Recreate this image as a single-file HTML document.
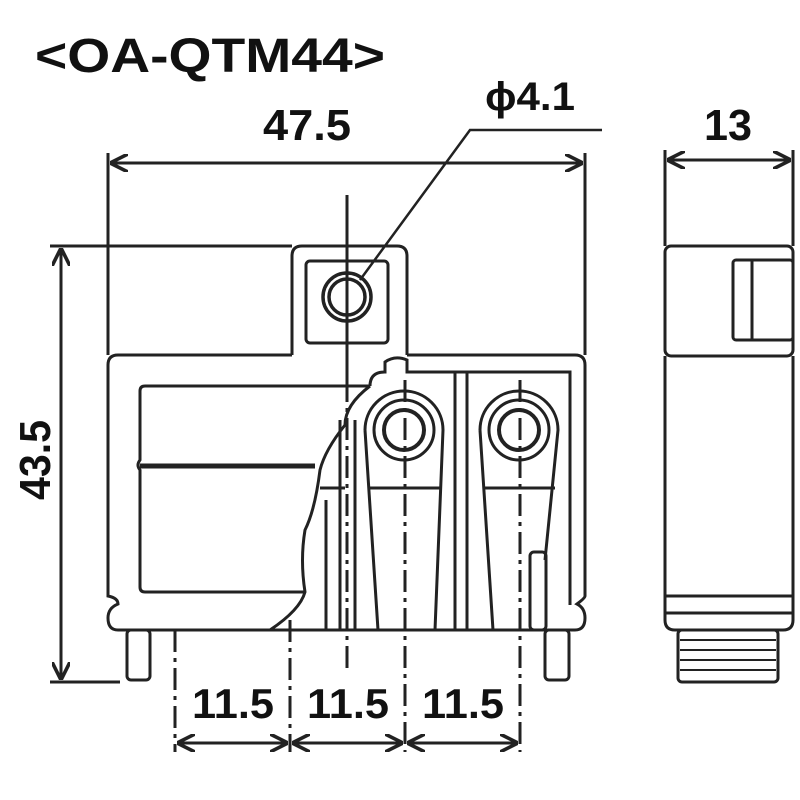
<!DOCTYPE html>
<html><head><meta charset="utf-8"><style>html,body{margin:0;padding:0;background:#fff}svg{display:block}</style></head>
<body>
<svg width="800" height="800" viewBox="0 0 800 800" xmlns="http://www.w3.org/2000/svg" font-family="Liberation Sans, sans-serif" fill="none" stroke="#222" stroke-width="3">
<defs>
<marker id="a" viewBox="0 0 10 10" refX="10" refY="5" markerWidth="6" markerHeight="6" orient="auto-start-reverse"><path d="M0,0 L10,5 L0,10" stroke="#222" stroke-width="2" fill="none"/></marker>
</defs>
<g fill="#111" stroke="none" font-weight="bold">
<text x="35" y="72" font-size="48" textLength="350" lengthAdjust="spacingAndGlyphs">&lt;OA-QTM44&gt;</text>
<text x="263" y="140" font-size="44" textLength="88" lengthAdjust="spacingAndGlyphs">47.5</text>
<text x="485" y="110" font-size="40" textLength="90" lengthAdjust="spacingAndGlyphs">ϕ4.1</text>
<text x="704" y="140" font-size="44" textLength="48" lengthAdjust="spacingAndGlyphs">13</text>
<text transform="translate(50,460) rotate(-90)" x="-40" y="0" font-size="44" textLength="80" lengthAdjust="spacingAndGlyphs">43.5</text>
<text x="192" y="718" font-size="42" textLength="82" lengthAdjust="spacingAndGlyphs">11.5</text>
<text x="307" y="718" font-size="42" textLength="82" lengthAdjust="spacingAndGlyphs">11.5</text>
<text x="422" y="718" font-size="42" textLength="82" lengthAdjust="spacingAndGlyphs">11.5</text>
</g>
<line x1="110" y1="163" x2="583" y2="163" marker-start="url(#a)" marker-end="url(#a)"/>
<line x1="108" y1="153" x2="108" y2="355"/>
<line x1="585" y1="153" x2="585" y2="355"/>
<line x1="667" y1="160" x2="791" y2="160" marker-start="url(#a)" marker-end="url(#a)"/>
<line x1="665" y1="150" x2="665" y2="246"/>
<line x1="793" y1="150" x2="793" y2="246"/>
<line x1="61" y1="248" x2="61" y2="680" marker-start="url(#a)" marker-end="url(#a)"/>
<line x1="50" y1="246" x2="292" y2="246"/>
<line x1="50" y1="682" x2="120" y2="682"/>
<line x1="177" y1="743" x2="288" y2="743" marker-start="url(#a)" marker-end="url(#a)"/>
<line x1="292" y1="743" x2="403" y2="743" marker-start="url(#a)" marker-end="url(#a)"/>
<line x1="407" y1="743" x2="518" y2="743" marker-start="url(#a)" marker-end="url(#a)"/>
<g stroke-dasharray="22,6,4,6">
<line x1="175" y1="630" x2="175" y2="752"/>
<line x1="290" y1="620" x2="290" y2="752"/>
<line x1="405" y1="380" x2="405" y2="752"/>
<line x1="520" y1="380" x2="520" y2="752"/>
<line x1="347" y1="380" x2="347" y2="670"/>
</g>
<line x1="347" y1="195" x2="347" y2="386"/>
<polyline points="602,130 470,130 360,280" stroke-width="2.5"/>
<path d="M292,355 V256 Q292,246 302,246 H397 Q407,246 407,256 V355"/>
<rect x="306" y="261" width="82" height="82" rx="4"/>
<circle cx="347" cy="297" r="24" stroke-width="3.5"/>
<circle cx="347" cy="297" r="18" stroke-width="3.5"/>
<path d="M292,355 H118 Q108,355 108,365 V596 Q118,598 118,604 Q108,608 108,618 Q108,630 118,630 H575 Q585,630 585,618 Q585,608 577,604 Q585,598 585,596 V365 Q585,355 575,355 H407"/>
<path d="M370,386 H145 Q140,386 140,391 V460 Q136,465 140,470 V587 Q140,592 145,592 H305"/>
<line x1="140" y1="466" x2="315" y2="466" stroke-width="5"/>
<path d="M370,386 Q370,372 385,372 V362 Q395,355 407,360 V372 H570 V605"/>
<path d="M370,386 Q345,405 345,425 Q325,450 320,470 Q315,510 305,530 Q300,560 305,592 Q300,610 270,630"/>
<line x1="455" y1="372" x2="455" y2="630"/>
<line x1="467" y1="372" x2="467" y2="630"/>
<g>
<path d="M365,430 A39,39 0 0 1 443,430 L435,630 M365,430 L378,630"/>
<circle cx="404" cy="430" r="30"/><circle cx="404" cy="430" r="20" stroke-width="4"/>
<line x1="370" y1="488" x2="440" y2="488"/>
<path d="M480,430 A39,39 0 0 1 558,430 L545,560 M480,430 L493,630"/>
<circle cx="519" cy="430" r="30"/><circle cx="519" cy="430" r="20" stroke-width="4"/>
<line x1="484" y1="488" x2="555" y2="488"/>
<line x1="320" y1="488" x2="345" y2="488"/>
<line x1="326" y1="500" x2="326" y2="630"/><line x1="340" y1="420" x2="340" y2="630"/><line x1="355" y1="420" x2="355" y2="630"/>
<rect x="530" y="552" width="16" height="78" rx="4"/>
</g>
<rect x="127" y="630" width="23" height="50" rx="4"/>
<rect x="545" y="630" width="24" height="50" rx="4"/>
<rect x="665" y="246" width="128" height="110" rx="6"/>
<rect x="733" y="260" width="60" height="80" rx="3"/>
<line x1="752" y1="260" x2="752" y2="340"/>
<path d="M665,356 V620 Q665,630 675,630 H783 Q793,630 793,620 V356"/>
<line x1="665" y1="596" x2="793" y2="596"/>
<line x1="665" y1="613" x2="793" y2="613"/>
<rect x="678" y="630" width="100" height="52" rx="4"/>
<g stroke-width="2"><line x1="680" y1="640" x2="776" y2="640"/><line x1="680" y1="650" x2="776" y2="650"/><line x1="680" y1="660" x2="776" y2="660"/><line x1="680" y1="670" x2="776" y2="670"/></g>
</svg>
</body></html>
